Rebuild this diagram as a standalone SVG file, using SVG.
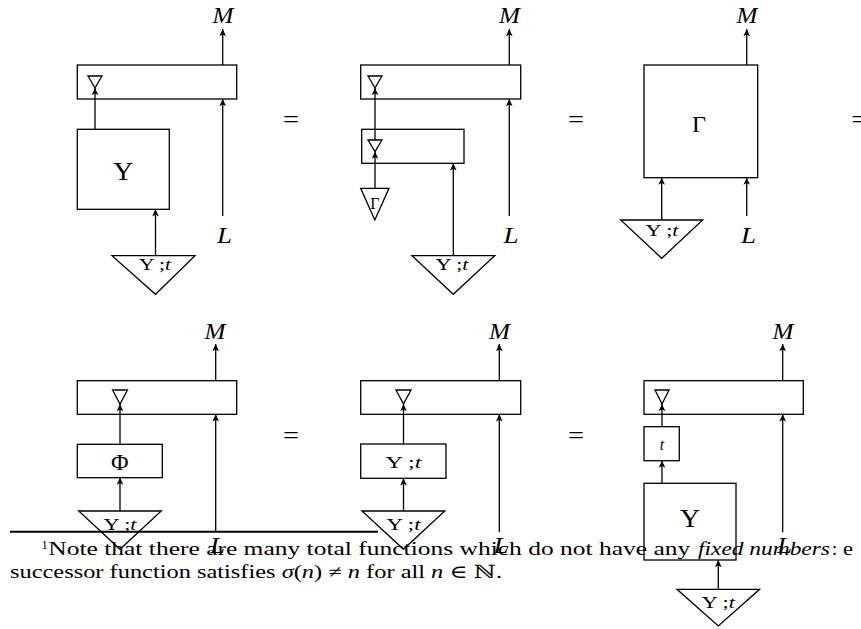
<svg xmlns="http://www.w3.org/2000/svg" width="861" height="629" viewBox="0 0 861 629">
<defs>
<marker id="ah" markerUnits="userSpaceOnUse" markerWidth="8" markerHeight="8" viewBox="-6 -3 6.5 6" refX="0" refY="0" orient="auto">
<path d="M0,0 L-5.8,-2.7 L-4.4,0 L-5.8,2.7 Z" fill="#000"/>
</marker>
<style>
.b{fill:none;stroke:#000;stroke-width:1.3}
.c line{stroke:#000;stroke-width:1.3;marker-end:url(#ah)}
text{font-family:"Liberation Serif","DejaVu Serif",serif;fill:#000}
.mi{font-style:italic;font-size:24px;text-anchor:middle}
.big{font-size:26px;text-anchor:middle}
.gm{font-size:24px;text-anchor:middle}
.sm{font-size:16px;text-anchor:middle}
.eq{font-size:26px;text-anchor:middle}
.fn{font-size:18.5px}
.it{font-style:italic}
</style>
</defs>

<!-- Top-left diagram -->
<g id="a-box"><rect class="b" x="77.3" y="65" width="159.4" height="34"/><polygon class="b" points="88,76 102,76 95,88"/></g>
<g id="a-ups"><rect class="b" x="77.3" y="129.3" width="92" height="80"/><text class="big" x="123.3" y="180" textLength="20" lengthAdjust="spacingAndGlyphs">Υ</text></g>
<g id="a-in"><polygon class="b" points="112,255.7 195,255.7 155.5,294.3"/><text class="sm" x="155" y="270" textLength="32" lengthAdjust="spacingAndGlyphs">Υ ;<tspan class="it">t</tspan></text></g>
<g id="a-M"><text class="mi" x="223" y="22.5" textLength="21" lengthAdjust="spacingAndGlyphs">M</text></g>
<g id="a-L"><text class="mi" x="224.5" y="243" textLength="15" lengthAdjust="spacingAndGlyphs">L</text></g>

<!-- Top-middle diagram -->
<g id="b-box"><rect class="b" x="360.7" y="65" width="160" height="34"/><polygon class="b" points="368,76 382,76 375,88"/></g>
<g id="b-box2"><rect class="b" x="361.7" y="129.3" width="102.3" height="34"/><polygon class="b" points="368,140 382,140 375,151.7"/></g>
<g id="b-gam"><polygon class="b" points="360.7,188.3 389,188.3 374.8,220"/><text class="sm" x="374.8" y="208.5">Γ</text></g>
<g id="b-in"><polygon class="b" points="412,255.7 494.7,255.7 453.3,294.3"/><text class="sm" x="452" y="270" textLength="33" lengthAdjust="spacingAndGlyphs">Υ ;<tspan class="it">t</tspan></text></g>
<g id="b-M"><text class="mi" x="509.5" y="22.5" textLength="21" lengthAdjust="spacingAndGlyphs">M</text></g>
<g id="b-L"><text class="mi" x="511" y="243" textLength="15" lengthAdjust="spacingAndGlyphs">L</text></g>

<!-- Top-right diagram -->
<g id="c-box"><rect class="b" x="644" y="65" width="113.7" height="112.7"/><text class="gm" x="699" y="132">Γ</text></g>
<g id="c-in"><polygon class="b" points="620.7,220 702.7,220 661.7,258.3"/><text class="sm" x="662" y="236" textLength="33" lengthAdjust="spacingAndGlyphs">Υ ;<tspan class="it">t</tspan></text></g>
<g id="c-M"><text class="mi" x="747" y="22.5" textLength="21" lengthAdjust="spacingAndGlyphs">M</text></g>
<g id="c-L"><text class="mi" x="748.5" y="243" textLength="15" lengthAdjust="spacingAndGlyphs">L</text></g>

<!-- Bottom-left diagram -->
<g id="d-box"><rect class="b" x="77.3" y="380.7" width="159.4" height="33.6"/><polygon class="b" points="112.5,390 127.5,390 120,404"/></g>
<g id="d-phi"><rect class="b" x="77.3" y="444.3" width="85" height="33.4"/><text class="gm" x="119.7" y="469.5">Φ</text></g>
<g id="d-in"><polygon class="b" points="78.7,511 161.3,511 120,549.3"/><text class="sm" x="120" y="529.5" textLength="33" lengthAdjust="spacingAndGlyphs">Υ ;<tspan class="it">t</tspan></text></g>
<g id="d-M"><text class="mi" x="215" y="339" textLength="21" lengthAdjust="spacingAndGlyphs">M</text></g>
<g id="d-L"><text class="mi" x="217.5" y="553" textLength="15" lengthAdjust="spacingAndGlyphs">L</text></g>

<!-- Bottom-middle diagram -->
<g id="e-box"><rect class="b" x="360.7" y="380.7" width="160" height="33.6"/><polygon class="b" points="396,390 411,390 403.5,404"/></g>
<g id="e-ut"><rect class="b" x="360.7" y="444" width="85.3" height="34.3"/><text class="sm" x="403.5" y="468" textLength="36" lengthAdjust="spacingAndGlyphs">Υ ;<tspan class="it">t</tspan></text></g>
<g id="e-in"><polygon class="b" points="362,511 444.8,511 403.5,549.3"/><text class="sm" x="403.5" y="529.5" textLength="34" lengthAdjust="spacingAndGlyphs">Υ ;<tspan class="it">t</tspan></text></g>
<g id="e-M"><text class="mi" x="499.5" y="339" textLength="21" lengthAdjust="spacingAndGlyphs">M</text></g>
<g id="e-L"><text class="mi" x="501" y="553" textLength="15" lengthAdjust="spacingAndGlyphs">L</text></g>

<!-- Bottom-right diagram -->
<g id="f-box"><rect class="b" x="644" y="380.7" width="159.3" height="33.6"/><polygon class="b" points="655,390 669,390 662,404"/></g>
<g id="f-t"><rect class="b" x="644" y="426.7" width="35.3" height="34"/><text class="sm it" x="662" y="450" font-size="17">t</text></g>
<g id="f-ups"><rect class="b" x="644" y="483.3" width="92" height="76.7"/><text class="big" x="690" y="526.7" textLength="20" lengthAdjust="spacingAndGlyphs">Υ</text></g>
<g id="f-in"><polygon class="b" points="677,589.3 759.6,589.3 718.3,626"/><text class="sm" x="718.3" y="608.3" textLength="33" lengthAdjust="spacingAndGlyphs">Υ ;<tspan class="it">t</tspan></text></g>
<g id="f-M"><text class="mi" x="783" y="339" textLength="21" lengthAdjust="spacingAndGlyphs">M</text></g>
<g id="f-L"><text class="mi" x="784.5" y="553" textLength="15" lengthAdjust="spacingAndGlyphs">L</text></g>

<!-- Equals signs -->
<g id="equals">
<text class="eq" x="291" y="128" textLength="16" lengthAdjust="spacingAndGlyphs">=</text>
<text class="eq" x="576" y="128" textLength="16" lengthAdjust="spacingAndGlyphs">=</text>
<text class="eq" x="851.5" y="128" style="text-anchor:start">=</text>
<text class="eq" x="291" y="444" textLength="16" lengthAdjust="spacingAndGlyphs">=</text>
<text class="eq" x="576" y="444" textLength="16" lengthAdjust="spacingAndGlyphs">=</text>
</g>

<!-- Connectors -->
<g id="connectors" class="c">
<line x1="222.7" y1="65" x2="222.7" y2="29"/>
<line x1="222.7" y1="216" x2="222.7" y2="99"/>
<line x1="95" y1="129.3" x2="95" y2="88"/>
<line x1="155.5" y1="255.7" x2="155.5" y2="209.3"/>

<line x1="509.3" y1="65" x2="509.3" y2="29"/>
<line x1="509.3" y1="216" x2="509.3" y2="99"/>
<line x1="375" y1="140" x2="375" y2="88"/>
<line x1="375" y1="188.3" x2="375" y2="151.7"/>
<line x1="453.3" y1="255.7" x2="453.3" y2="163.3"/>

<line x1="746.7" y1="65" x2="746.7" y2="29"/>
<line x1="746.7" y1="216" x2="746.7" y2="177.7"/>
<line x1="661.7" y1="220" x2="661.7" y2="177.7"/>

<line x1="215.7" y1="380.7" x2="215.7" y2="344"/>
<line x1="215.7" y1="532" x2="215.7" y2="414.3"/>
<line x1="120" y1="444.3" x2="120" y2="404"/>
<line x1="120" y1="511" x2="120" y2="477.7"/>

<line x1="499.3" y1="380.7" x2="499.3" y2="344"/>
<line x1="499.3" y1="532" x2="499.3" y2="414.3"/>
<line x1="403.5" y1="444" x2="403.5" y2="404"/>
<line x1="403.5" y1="511" x2="403.5" y2="478.3"/>

<line x1="782.7" y1="380.7" x2="782.7" y2="344"/>
<line x1="782.7" y1="532" x2="782.7" y2="414.3"/>
<line x1="662" y1="426.7" x2="662" y2="404"/>
<line x1="662" y1="483.3" x2="662" y2="460.7"/>
<line x1="718.3" y1="589.3" x2="718.3" y2="560"/>
</g>

<!-- Footnote -->
<g id="footnote">
<line x1="10" y1="531.7" x2="378" y2="531.7" stroke="#000" stroke-width="2"/>
<text x="41.5" y="549" font-size="12.5">1</text>
<text class="fn" x="48.3" y="554.5" textLength="642" lengthAdjust="spacingAndGlyphs">Note that there are many total functions which do not have any</text>
<text class="fn it" x="698" y="554.5" textLength="132" lengthAdjust="spacingAndGlyphs">fixed numbers</text>
<text class="fn" x="832" y="554.5">:</text>
<text class="fn" x="843" y="554.5" textLength="10" lengthAdjust="spacingAndGlyphs">e</text>
<text class="fn" x="10" y="577.5" textLength="492" lengthAdjust="spacingAndGlyphs">successor function satisfies <tspan class="it">σ</tspan>(<tspan class="it">n</tspan>) ≠ <tspan class="it">n</tspan> for all <tspan class="it">n</tspan> ∈ ℕ.</text>
</g>
</svg>
